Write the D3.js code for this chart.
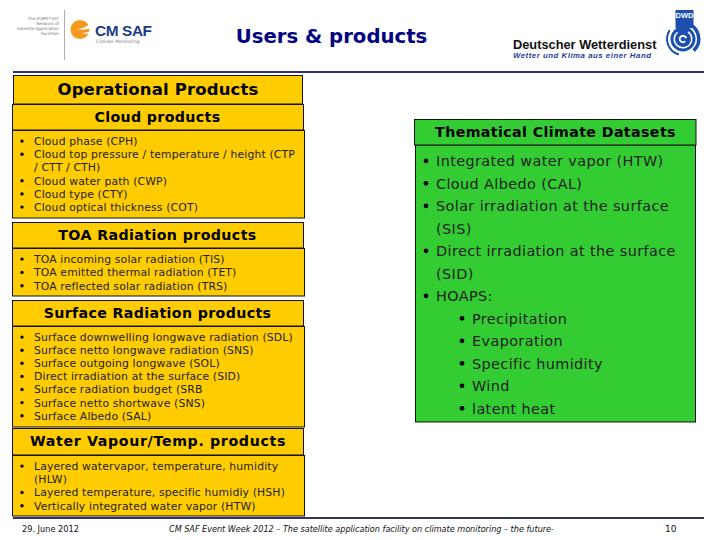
<!DOCTYPE html>
<html>
<head>
<meta charset="utf-8">
<style>
html, body { margin: 0; padding: 0; background: #fff; }
text { font-family: "DejaVu Sans", sans-serif; }
</style>
<script src="https://cdn.jsdelivr.net/npm/d3@7"></script>
</head>
<body>
<div id="chartDiv"></div>
<script>
var slideTitle = "Users & products";
var operationalTitle = "Operational Products";
var thematicTitle = "Thematical Climate Datasets";

// a nested array is one bullet wrapped over several lines
var cloudItems = ["Cloud phase (CPH)", ["Cloud top pressure / temperature / height (CTP", "/ CTT / CTH)"], "Cloud water path (CWP)", "Cloud type (CTY)", "Cloud optical thickness (COT)"];
var toaItems = ["TOA incoming solar radiation (TIS)", "TOA emitted thermal radiation (TET)", "TOA reflected solar radiation (TRS)"];
var surfaceItems = ["Surface downwelling longwave radiation (SDL)", "Surface netto longwave radiation (SNS)", "Surface outgoing longwave (SOL)", "Direct irradiation at the surface (SID)", "Surface radiation budget (SRB", "Surface netto shortwave (SNS)", "Surface Albedo (SAL)"];
var waterItems = [["Layered watervapor, temperature, humidity", "(HLW)"], "Layered temperature, specific humidiy (HSH)", "Vertically integrated water vapor (HTW)"];
var thematicItems = ["Integrated water vapor (HTW)", "Cloud Albedo (CAL)", ["Solar irradiation at the surface", "(SIS)"], ["Direct irradiation at the surface", "(SID)"], "HOAPS:"];
var hoapsItems = ["Precipitation", "Evaporation", "Specific humidity", "Wind", "latent heat"];

var footerDate = "29. June 2012";
var footerText = "CM SAF Event Week 2012 – The satellite application facility on climate monitoring – the future-";
var footerPage = "10";

var amber = "#ffcc00", green = "#33cc33", rule = "#333366", navy = "#000080";
var dwdBlue = "#1c4fb0";

var svg = d3.select("#chartDiv").append("svg")
    .attr("width", 720)
    .attr("height", 540)
    .style("display", "block");

function box(x0, y0, x1, y1, fill) {
    svg.append("rect")
        .attr("x", x0).attr("y", y0)
        .attr("width", x1 - x0).attr("height", y1 - y0)
        .attr("fill", fill)
        .attr("stroke", "#111")
        .attr("stroke-width", 1);
}

function heading(label, cx, y, size, spacing) {
    svg.append("text")
        .attr("x", cx).attr("y", y)
        .attr("text-anchor", "middle")
        .attr("font-weight", "bold")
        .attr("font-size", size)
        .attr("letter-spacing", spacing)
        .attr("fill", "#000")
        .text(label);
}

// flatten the wrapped bullets so each text line gets one row
function bullets(items, bx, tx, y0, step, size, r, spacing) {
    var rows = [];
    items.forEach(function (d) {
        [].concat(d).forEach(function (line, i) {
            rows.push({ line: line, first: i == 0 });
        });
    });
    var g = svg.append("g");
    g.selectAll("text").data(rows).enter().append("text")
        .attr("x", tx)
        .attr("y", function (d, i) { return y0 + i * step; })
        .attr("font-size", size)
        .attr("letter-spacing", spacing)
        .attr("fill", "#222")
        .text(function (d) { return d.line; });
    g.selectAll("circle").data(rows.map(function (d, i) { return { first: d.first, i: i }; }).filter(function (d) { return d.first; }))
        .enter().append("circle")
        .attr("cx", bx)
        .attr("cy", function (d) { return y0 + d.i * step - size * 0.36; })
        .attr("r", r)
        .attr("fill", "#000");
}

// rules
svg.append("rect").attr("x", 13).attr("y", 71).attr("width", 691).attr("height", 2).attr("fill", rule);
svg.append("rect").attr("x", 13).attr("y", 517).attr("width", 691).attr("height", 2).attr("fill", rule);

// title
svg.append("text")
    .attr("x", 331.5).attr("y", 43)
    .attr("text-anchor", "middle")
    .attr("font-weight", "bold")
    .attr("font-size", 19.7)
    .attr("fill", navy)
    .text(slideTitle);

// CM SAF logo
var cm = svg.append("g");
cm.selectAll("text.org").data(["The EUMETSAT", "Network of", "Satellite Application", "Facilities"]).enter().append("text")
    .attr("class", "org")
    .attr("x", 59)
    .attr("y", function (d, i) { return 19.5 + i * 5; })
    .attr("text-anchor", "end")
    .attr("font-size", 4.2)
    .attr("fill", "#777")
    .text(function (d) { return d; });
cm.append("line").attr("x1", 64.5).attr("x2", 64.5).attr("y1", 10).attr("y2", 60).attr("stroke", "#999").attr("stroke-width", 0.8);
cm.append("circle").attr("cx", 80).attr("cy", 29.5).attr("r", 9.5).attr("fill", "#f39a1e");
cm.append("path").attr("d", "M77 29 Q84 29 91 23 L91 28 Q85 31 77 29 Z").attr("fill", "#fff");
cm.append("path").attr("d", "M82 33 Q86 33 91 31 L91 33 Q86 34.5 82 33 Z").attr("fill", "#fff");
cm.append("text").attr("x", 95).attr("y", 36).attr("font-size", 15.4).attr("font-weight", "bold")
    .style("font-family", "'Liberation Sans'").attr("fill", "#1b3a87").attr("letter-spacing", -0.4).text("CM SAF");
cm.append("text").attr("x", 96).attr("y", 43).attr("font-size", 4.6).attr("fill", "#777").text("Climate Monitoring");

// DWD logo
var dwd = svg.append("g");
dwd.append("text").attr("x", 513).attr("y", 49).attr("font-size", 12.8).attr("font-weight", "bold")
    .style("font-family", "'Liberation Sans'").attr("fill", "#111").text("Deutscher Wetterdienst");
dwd.append("text").attr("x", 513).attr("y", 58).attr("font-size", 7.8).attr("font-weight", "bold").attr("font-style", "italic")
    .style("font-family", "'Liberation Sans'").attr("fill", "#1c3f94").attr("letter-spacing", 0.53).text("Wetter und Klima aus einer Hand");
dwd.append("rect").attr("x", 675.5).attr("y", 10).attr("width", 18).attr("height", 18).attr("fill", dwdBlue);
dwd.append("text").attr("x", 684.5).attr("y", 18).attr("text-anchor", "middle").attr("font-size", 7.5).attr("font-weight", "bold")
    .style("font-family", "'Liberation Sans'").attr("fill", "#fff").text("DWD");

// swirl built from arcs around one centre
var swirl = dwd.append("g").attr("transform", "translate(683,39)");
var swirlArc = d3.arc();
function ring(r0, r1, a0, a1, fill) {
    swirl.append("path")
        .attr("d", swirlArc({ innerRadius: r0, outerRadius: r1, startAngle: a0, endAngle: a1 }))
        .attr("fill", fill);
}
ring(0, 12.5, 0, 2 * Math.PI, dwdBlue);
ring(14, 17.5, 0.2, 2.4, dwdBlue);
ring(15, 17, 3.4, 5.3, dwdBlue);
ring(8, 9.5, 0.6, 5.6, "#fff");
ring(2.2, 4.2, 2.4, 7.6, "#fff");

// amber column
box(13.5, 75.5, 302.5, 104, amber);
heading(operationalTitle, 158, 95, 16.5, 0.15);
box(12.5, 104.5, 303.5, 130, amber);
heading("Cloud products", 157.5, 122, 14.2, 0.35);
box(12.5, 130.5, 304.5, 218, amber);
bullets(cloudItems, 22, 34, 145, 13.2, 10.8, 1.7, 0.16);

box(12.5, 222.5, 303.5, 248, amber);
heading("TOA Radiation products", 157.5, 240, 14.2, 0.4);
box(12.5, 248.5, 304.5, 296, amber);
bullets(toaItems, 22, 34, 263, 13.3, 10.8, 1.7, 0.16);

box(12.5, 300.5, 303.5, 326, amber);
heading("Surface Radiation products", 157.5, 318, 14.2, 0.36);
box(12.5, 326.5, 304.5, 427, amber);
bullets(surfaceItems, 22, 34, 341, 13.1, 10.8, 1.7, 0.16);

box(12.5, 428.5, 303.5, 455, amber);
heading("Water Vapour/Temp. products", 158, 446, 14.2, 0.65);
box(12.5, 455.5, 304.5, 516, amber);
bullets(waterItems, 22, 34, 470, 13.2, 10.8, 1.7, 0.16);

// green column
box(415.5, 145, 695.5, 422, green);
box(414.5, 119.5, 696, 145, green);
heading(thematicTitle, 555.5, 137, 14.2, 0.4);
bullets(thematicItems, 426, 436, 166, 22.5, 14.4, 2.4, 0.4);
bullets(hoapsItems, 462, 472, 323.5, 22.5, 14.4, 2.4, 0.4);

// footer
svg.append("text").attr("x", 22).attr("y", 532).attr("font-size", 8.2).attr("fill", "#111").text(footerDate);
svg.append("text").attr("x", 169).attr("y", 532).attr("font-size", 8.1).attr("font-style", "italic").attr("fill", "#111").text(footerText);
svg.append("text").attr("x", 665).attr("y", 532).attr("font-size", 9).attr("fill", "#111").text(footerPage);
</script>
</body>
</html>
